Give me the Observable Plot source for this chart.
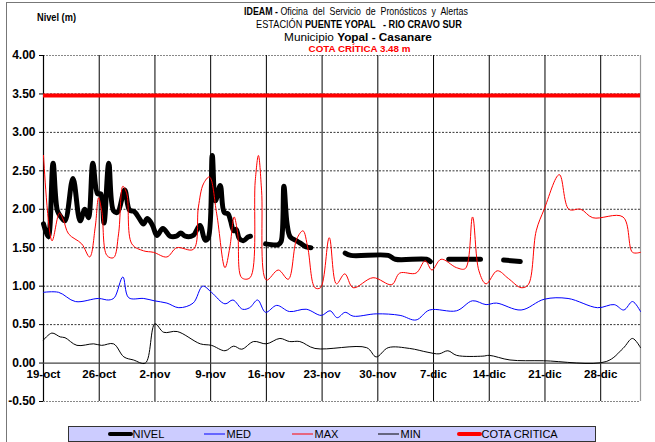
<!DOCTYPE html>
<html><head><meta charset="utf-8">
<script src="https://cdn.jsdelivr.net/npm/d3@7"></script>
<script src="https://cdn.jsdelivr.net/npm/@observablehq/plot@0.6"></script>
<style>
html,body{margin:0;padding:0;background:#fff;overflow:hidden}
#chart{position:relative;width:655px;height:442px}
</style></head><body><div id="chart"></div>
<script>
// ---- data ----
const tickDays = [0,7,14,21,28,35,42,49,56,63,70];
const tickLabels = ["19-oct","26-oct","2-nov","9-nov","16-nov","23-nov","30-nov","7-dic","14-dic","21-dic","28-dic"];
const yTicks = [-0.5,0,0.5,1,1.5,2,2.5,3,3.5,4];
const cotaCritica = 3.48;

// NIVEL (day offset from 19-oct, value m); null = gap
const nivelDays = [0,0.6,1.2,1.75,2.2,2.7,3.7,4.6,5.2,5.65,6.2,6.8,7.2,7.6,8.2,8.8,9.3,10.2,10.8,11.4,12.1,12.55,13.05,13.7,14.25,15.0,15.9,16.7,17.25,17.8,18.8,19.65,20.3,20.7,21.2,21.6,22.2,22.7,23.2,23.5,23.9,24.2,24.6,25.1,25.7,26.0,
  27.0,
  27.9,29.5,29.85,30.2,30.6,31.0,31.8,32.4,33.0,33.6,
  35.5,
  37.9,38.6,43.3,44.2,48.1,48.6,
  49.8,
  50.9,54.9,
  56.5,
  57.8,59.9];
const nivelValues = [1.81,1.64,2.60,1.98,1.90,1.85,2.40,1.85,2.00,1.89,2.60,2.20,2.20,1.82,2.60,1.98,1.96,2.25,1.99,1.97,1.87,1.81,1.88,1.79,1.66,1.75,1.65,1.65,1.69,1.65,1.66,1.79,1.60,1.63,2.70,2.11,2.31,1.96,1.94,1.85,1.72,1.74,1.62,1.59,1.64,1.65,
  null,
  1.55,1.54,1.58,2.30,1.81,1.64,1.59,1.55,1.51,1.50,
  null,
  1.43,1.40,1.40,1.35,1.35,1.32,
  null,
  1.35,1.35,
  null,
  1.34,1.32];

const maxDays = [0,1.07,2.0,2.5,3.15,4.8,5.8,6.5,6.92,7.34,7.96,8.8,9.43,9.97,10.47,11.1,12.56,13.82,15.5,16.74,18.84,19.46,20.09,20.85,21.76,22.8,23.4,23.95,24.4,24.9,25.95,26.6,27.0,27.4,28.0,29.5,30.75,31.8,32.6,33.2,34.1,34.8,35.9,36.8,37.85,38.9,41.4,43.75,44.75,46.8,47.95,48.8,49.95,51.9,53.0,53.9,54.7,55.6,57.0,58.4,60.0,60.9,61.9,62.9,64.8,66.0,67.5,69.0,72.8,74.0,75.0];
const maxValues = [2.70,1.59,1.95,1.86,1.68,1.55,1.38,1.77,2.15,1.96,1.40,1.37,1.68,2.30,2.20,1.55,1.46,1.44,1.38,1.50,1.48,2.03,2.33,2.42,1.94,1.24,1.50,1.90,1.68,1.11,1.11,2.37,2.70,2.24,1.08,1.21,1.09,1.61,1.72,1.50,0.98,0.98,1.63,1.03,1.16,0.98,1.11,1.02,1.17,1.17,1.33,1.21,1.35,1.24,1.23,1.90,1.20,1.03,1.20,1.10,0.98,1.02,1.72,2.00,2.45,2.00,2.00,1.89,1.90,1.44,1.44];

const medDays = [0,1.9,4.0,6.9,8.2,8.9,9.97,10.7,12.6,13.9,15.5,17.0,18.8,20.0,21.1,22.8,23.8,25.0,25.9,26.9,27.9,29.3,30.9,33.0,34.9,36.0,36.9,37.9,38.9,41.8,44.8,46.8,48.5,51.9,53.9,55.6,56.9,60.0,62.9,65.9,69.6,71.7,72.9,74.0,75.0];
const medValues = [0.92,0.92,0.80,0.84,0.82,0.85,1.12,0.85,0.84,0.81,0.78,0.72,0.78,1.00,0.92,0.77,0.82,0.70,0.72,0.82,0.66,0.75,0.67,0.70,0.62,0.68,0.59,0.66,0.61,0.64,0.62,0.56,0.69,0.68,0.81,0.76,0.78,0.69,0.83,0.84,0.72,0.76,0.69,0.80,0.67];

const minDays = [0,1.05,2.1,2.7,4.2,6.3,7.3,8.8,10.1,11.3,12.8,14.0,15.1,16.8,19.7,21.1,22.8,23.9,24.9,26.4,28.0,29.7,30.9,32.2,34.1,40.6,41.8,43.3,46.0,48.3,49.7,50.8,51.9,55.2,56.0,58.6,62.8,70.7,72.8,74.0,75.0];
const minValues = [0.30,0.39,0.34,0.33,0.23,0.25,0.23,0.25,0.08,0.04,0.00,0.51,0.40,0.41,0.25,0.23,0.16,0.22,0.18,0.28,0.25,0.32,0.28,0.28,0.19,0.20,0.08,0.20,0.19,0.14,0.12,0.16,0.10,0.09,0.10,0.04,0.03,0.02,0.19,0.32,0.20];

const legendItems = ["NIVEL","MED","MAX","MIN","COTA CRITICA"];
const legendColors = ["#000","#0000ff","#ff0000","#000","#ff0000"];
const legendWidths = [4,1,1,1,4];

// ---- build tables ----
const toRows = (ds, vs) => ds.map((d,i) => ({d, v: vs[i] == null ? NaN : vs[i]}));
const nivel = toRows(nivelDays, nivelValues);
const maxS = toRows(maxDays, maxValues);
const medS = toRows(medDays, medValues);
const minS = toRows(minDays, minValues);

const font = "'Liberation Sans', Arial, sans-serif";
const plot = Plot.plot({
  width: 655, height: 442,
  marginTop: 55, marginLeft: 43, marginRight: 15, marginBottom: 41,
  style: {fontFamily: font, background: "#fff", overflow: "visible"},
  x: {type: "linear", domain: [0, 75], axis: null},
  y: {type: "linear", domain: [-0.5, 4], axis: null},
  marks: [
    Plot.ruleY(yTicks.filter(v => v > -0.5 && v < 4 && v !== 0), {stroke: "#000", strokeWidth: 0.8, strokeDasharray: "2,1.5"}),
    Plot.ruleY([4, -0.5], {stroke: "#888", strokeWidth: 1, strokeDasharray: "2,1"}),
    Plot.ruleX(tickDays.slice(1), {stroke: "#000", strokeWidth: 1}),
    Plot.ruleX([75], {stroke: "#999", strokeWidth: 1.2}),
    Plot.ruleX([0], {stroke: "#000", strokeWidth: 1.2}),
    Plot.ruleY([0], {stroke: "#444", strokeWidth: 1.3}),
    Plot.ruleY(yTicks, {y: d => d, x1: -0.5, x2: 0, stroke: "#000"}),
    Plot.line(nivel, {x: "d", y: "v", stroke: "#000", strokeWidth: 5, curve: "catmull-rom"}),
    Plot.line(medS, {x: "d", y: "v", stroke: "#0000ff", strokeWidth: 1, curve: "catmull-rom"}),
    Plot.line(maxS, {x: "d", y: "v", stroke: "#ff0000", strokeWidth: 1, curve: "catmull-rom"}),
    Plot.line(minS, {x: "d", y: "v", stroke: "#000", strokeWidth: 1, curve: "catmull-rom"}),
    Plot.ruleY([cotaCritica], {stroke: "#ff0000", strokeWidth: 4}),
    Plot.text(yTicks, {x: 0, y: d => d, text: d => d.toFixed(2), textAnchor: "end", dx: -8, fontWeight: "bold", fontSize: 12, fill: "#000"}),
    Plot.text(tickDays, {x: d => d, y: 0, text: (d, i) => tickLabels[i], dy: 11, fontWeight: "bold", fontSize: 11.5, fill: "#000"})
  ]
});
document.getElementById("chart").appendChild(plot);

const svg = d3.select(plot);
// outer frame
svg.insert("rect", ":first-child").attr("x", 6.5).attr("y", 2.5).attr("width", 700).attr("height", 500)
  .attr("fill", "none").attr("stroke", "#777").attr("stroke-width", 1);

// titles: natural-size text, horizontally condensed with a scale transform
const tg = svg.append("g").attr("font-family", font).attr("fill", "#000");
function titleLine(cx, y, size, targetWidth, parts, anchor) {
  const g = tg.append("g");
  const t = g.append("text").attr("x", 0).attr("y", 0).attr("font-size", size)
    .attr("text-anchor", anchor || "middle");
  parts.forEach(([s, bold]) => t.append("tspan").attr("font-weight", bold ? "bold" : "normal").text(s));
  const w = t.node().getComputedTextLength() || targetWidth;
  g.attr("transform", `translate(${cx},${y}) scale(${(targetWidth / w).toFixed(4)},1)`);
  return t;
}
titleLine(356, 14.5, 11, 224, [["IDEAM - ", true], ["Oficina  del  Servicio  de  Pronósticos  y  Alertas", false]]);
titleLine(359, 27.5, 11, 206, [["ESTACIÓN ", false], ["PUENTE YOPAL   - RIO CRAVO SUR", true]]);
titleLine(358, 40.5, 11.5, 148, [["Municipio ", false], ["Yopal - Casanare", true]]);
titleLine(359.5, 51.5, 9, 102, [["COTA CRÍTICA 3.48 m", true]]).attr("fill", "#ff0000");
titleLine(37, 21, 10.5, 39, [["Nivel (m)", true]], "start");

// legend
const lg = svg.append("g").attr("font-family", font).attr("text-anchor", "start");
lg.append("rect").attr("x", 68.5).attr("y", 426.5).attr("width", 527).attr("height", 15)
  .attr("fill", "#ccccff").attr("stroke", "#333").attr("stroke-width", 1);
const lineX = [110, 204, 292, 378, 459];
legendItems.forEach((name, i) => {
  lg.append("line").attr("x1", lineX[i]).attr("x2", lineX[i] + 21).attr("y1", 434).attr("y2", 434)
    .attr("stroke", legendColors[i]).attr("stroke-width", legendWidths[i]).attr("stroke-linecap", i === 0 || i === 4 ? "round" : "butt");
  lg.append("text").attr("x", lineX[i] + 22.5).attr("y", 438).attr("font-size", 11).attr("fill", "#000").text(name);
});
</script></body></html>
